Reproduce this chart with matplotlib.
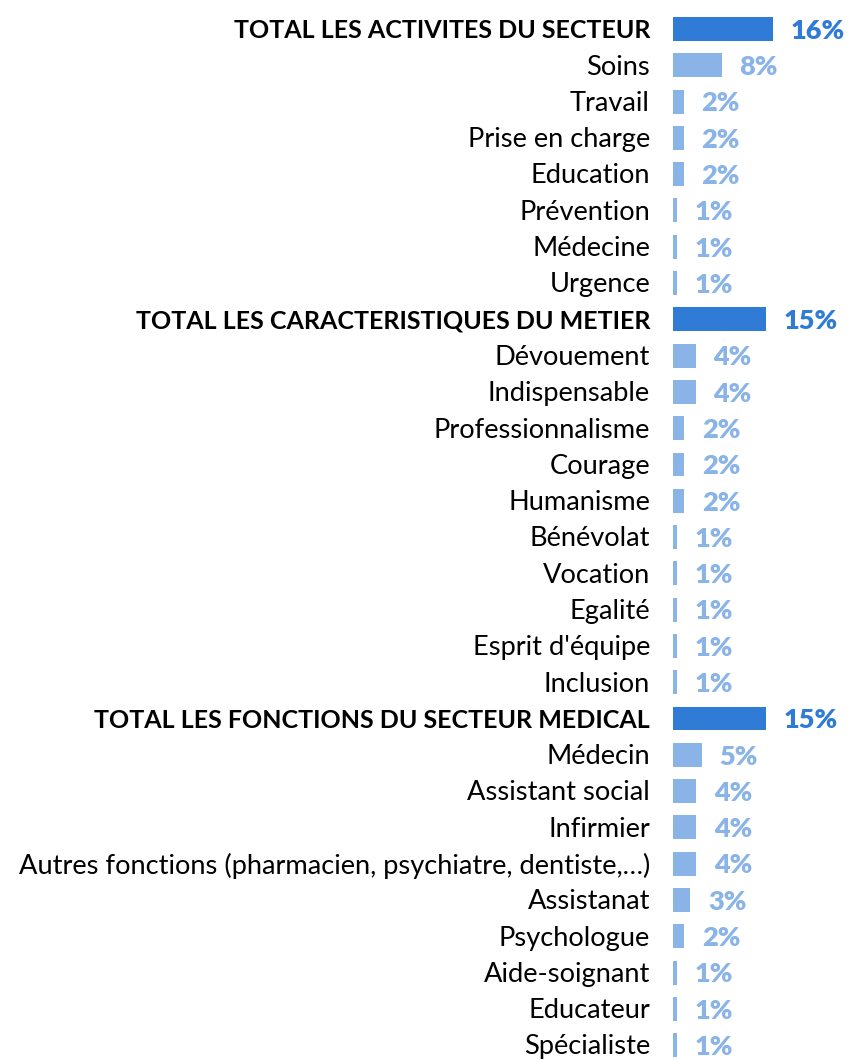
import matplotlib
matplotlib.use("Agg")
import matplotlib.pyplot as plt

categories = [
    "TOTAL LES ACTIVITES DU SECTEUR", "Soins", "Travail", "Prise en charge", "Education",
    "Prévention", "Médecine", "Urgence",
    "TOTAL LES CARACTERISTIQUES DU METIER", "Dévouement", "Indispensable", "Professionnalisme",
    "Courage", "Humanisme", "Bénévolat", "Vocation", "Egalité", "Esprit d'équipe", "Inclusion",
    "TOTAL LES FONCTIONS DU SECTEUR MEDICAL", "Médecin", "Assistant social", "Infirmier",
    "Autres fonctions (pharmacien, psychiatre, dentiste,…)", "Assistanat", "Psychologue",
    "Aide-soignant", "Educateur", "Spécialiste",
]
values = [
    16.1, 7.9, 1.7, 1.7, 1.7, 0.7, 0.7, 0.7,
    15.0, 3.7, 3.7, 1.8, 1.8, 1.8, 0.7, 0.7, 0.7, 0.7, 0.7,
    15.0, 4.7, 3.75, 3.75, 3.75, 2.8, 1.8, 0.7, 0.7, 0.7,
]
is_total = [c.startswith("TOTAL") for c in categories]

DARK = "#2F7BD6"
LIGHT = "#8AB4E8"

W, H = 849, 1060
fig = plt.figure(figsize=(W / 100, H / 100), dpi=100)
x0 = 673
ax = fig.add_axes([x0 / W, 0, (W - x0) / W, 1])
px_per_unit = 6.2
ax.set_xlim(0, (W - x0) / px_per_unit)
row_top = 29
row_step = 36.29
ax.set_ylim((H - row_top) / row_step, -row_top / row_step)
ax.axis("off")

colors = [DARK if t else LIGHT for t in is_total]
ys = list(range(len(categories)))
ax.barh(ys, values, height=0.66, color=colors)

font = ["Lato", "DejaVu Sans"]
gap_units = 17.5 / px_per_unit
for y, v, c, t in zip(ys, values, colors, is_total):
    ax.text(v + gap_units, y + 0.05, f"{v:.0f}%", color=c, fontsize=19.5, fontweight="heavy",
            family=font, va="center", ha="left")

# category labels, right-aligned at x = 650 px
label_x = (650 - x0) / px_per_unit
for y, cat, t in zip(ys, categories, is_total):
    ax.text(label_x, y + 0.05, cat, fontsize=18 if t else 19.6,
            fontweight="bold" if t else "normal",
            family=font, va="center", ha="right", color="black", clip_on=False)

fig.savefig("out.png", dpi=100, facecolor="white")
